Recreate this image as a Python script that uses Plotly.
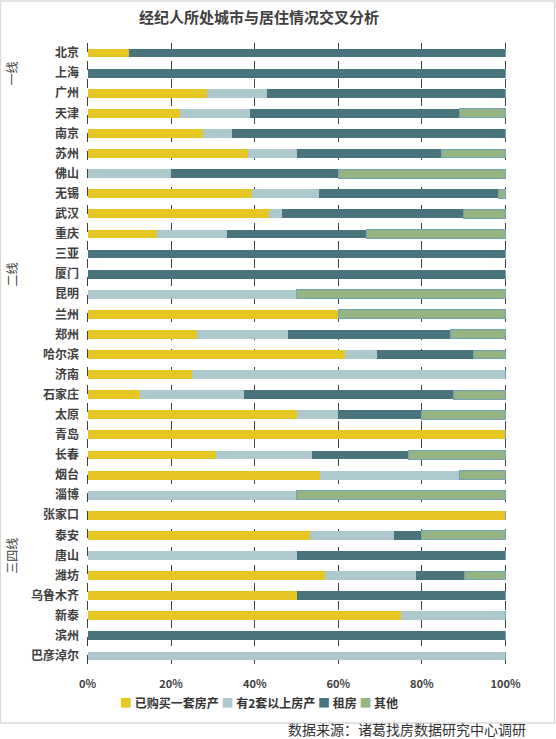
import plotly.graph_objects as go

cities = ["北京", "上海", "广州", "天津", "南京", "苏州", "佛山", "无锡", "武汉", "重庆",
          "三亚", "厦门", "昆明", "兰州", "郑州", "哈尔滨", "济南", "石家庄", "太原", "青岛",
          "长春", "烟台", "淄博", "张家口", "泰安", "唐山", "潍坊", "乌鲁木齐", "新泰", "滨州",
          "巴彦淖尔"]
# 一线 / 二线 / 三四线: label placed on the middle city of each group
tier_names = ["一线", "二线", "三四线"]
tier_mid_city = ["上海", "厦门", "唐山"]

x_ticks = [0, 20, 40, 60, 80, 100]
x_tick_labels = ["0%", "20%", "40%", "60%", "80%", "100%"]

bought_one = [10.0, 0, 28.6, 22.2, 27.6, 38.5, 0, 39.3, 43.5, 16.7,
              0, 0, 0, 60.0, 26.1, 61.5, 25.0, 12.5, 50.0, 100,
              30.8, 55.6, 0, 100, 53.3, 0, 56.9, 50.0, 75.0, 0,
              0]
two_plus = [0, 0, 14.3, 16.7, 6.9, 11.5, 20.0, 16.0, 3.0, 16.7,
            0, 0, 50.0, 0, 21.8, 7.7, 75.0, 25.0, 10.0, 0,
            22.9, 33.3, 50.0, 0, 20.0, 50.0, 21.6, 0, 25.0, 0,
            100]
renting = [90.0, 100, 57.1, 50.0, 65.5, 34.6, 40.0, 43.1, 43.5, 33.3,
           100, 100, 0, 0, 39.0, 23.1, 0, 50.0, 20.0, 0,
           23.2, 0, 0, 0, 6.7, 50.0, 11.7, 50.0, 0, 100,
           0]
other = [0, 0, 0, 11.1, 0, 15.4, 40.0, 1.6, 10.0, 33.3,
         0, 0, 50.0, 40.0, 13.1, 7.7, 0, 12.5, 20.0, 0,
         23.1, 11.1, 50.0, 0, 20.0, 0, 9.8, 0, 0, 0,
         0]

series = [
    ("已购买一套房产", bought_one, "#E5C623", None),
    ("有2套以上房产", two_plus, "#ADC9CD", None),
    ("租房", renting, "#4A747B", None),
    ("其他", other, "#95B482", "#72A3BD"),
]

font = "Noto Sans CJK SC"
text_col = "#404040"

fig = go.Figure()
for name, vals, col, line in series:
    fig.add_trace(go.Bar(
        y=cities, x=vals, name=name, orientation="h", showlegend=False,
        marker=dict(color=col, line=dict(color=line or col, width=1 if line else 0)),
    ))

# 0%..100% sits at x = 88..505 px; the axis range is padded so plotly
# also draws the dashed grid lines at 0% and 100%
pad = 3
L0, L1 = 88, 505
ppu = (L1 - L0) / 100.0
ml = L0 - pad * ppu
mr = 556 - (L1 + pad * ppu)
pw = 556 - ml - mr


def px_x(p):
    return (p - ml) / pw


def px_y(p):
    return (666 - p) / 623


fig.update_layout(
    barmode="stack",
    bargap=0.56,
    width=556, height=739,
    margin=dict(l=ml, r=mr, t=43, b=73, autoexpand=False),
    paper_bgcolor="white", plot_bgcolor="rgba(0,0,0,0)",
    font=dict(family=font, color=text_col, size=12),
    title=dict(text="<b>经纪人所处城市与居住情况交叉分析</b>", x=px_x(259), xref="paper",
               xanchor="center", y=1 - 18 / 739, yanchor="middle",
               font=dict(size=15, color=text_col)),
)

fig.update_xaxes(
    range=[-pad, 100 + pad], tickvals=x_ticks, ticktext=x_tick_labels, showgrid=True,
    gridcolor="#404040", griddash="dash", gridwidth=1, zeroline=False,
    showline=False, ticks="", ticklabelstandoff=10,
    tickfont=dict(size=11, color=text_col, weight="bold"), fixedrange=True,
)
# pull the city labels back in so they end ~9px left of the 0% line
fig.update_yaxes(
    autorange="reversed", showgrid=False, ticks="", ticklabelstandoff=-5,
    tickfont=dict(size=12, color=text_col, weight="bold"), fixedrange=True,
)

for name, mid in zip(tier_names, tier_mid_city):
    fig.add_annotation(text=name, xref="paper", yref="y", x=px_x(12), y=mid,
                       textangle=-90, showarrow=False, xanchor="center", yanchor="middle",
                       font=dict(size=12, color=text_col))

# legend drawn as one line of text with coloured squares, packed like the original
legend_parts = []
for name, vals, col, line in series:
    legend_parts.append('<span style="color:%s">■</span> <b>%s</b>' % (col, name))
fig.add_annotation(text=" ".join(legend_parts), xref="paper", yref="paper",
                   x=px_x(259), y=px_y(702), xanchor="center", yanchor="middle",
                   showarrow=False, font=dict(size=12, color="#333333"))

fig.add_annotation(text="数据来源：诸葛找房数据研究中心调研", xref="paper", yref="paper",
                   x=px_x(527), y=px_y(729), xanchor="right", yanchor="middle",
                   showarrow=False, font=dict(size=14, color="#333333"))

fig.add_shape(type="rect", xref="paper", yref="paper",
              x0=px_x(1), x1=px_x(554), y0=px_y(723), y1=px_y(1),
              line=dict(color="#D9D9D9", width=1.5), fillcolor="rgba(0,0,0,0)", layer="below")

fig.write_html("out.html", config={"displayModeBar": False},
               post_script="document.body.style.margin='0';")
